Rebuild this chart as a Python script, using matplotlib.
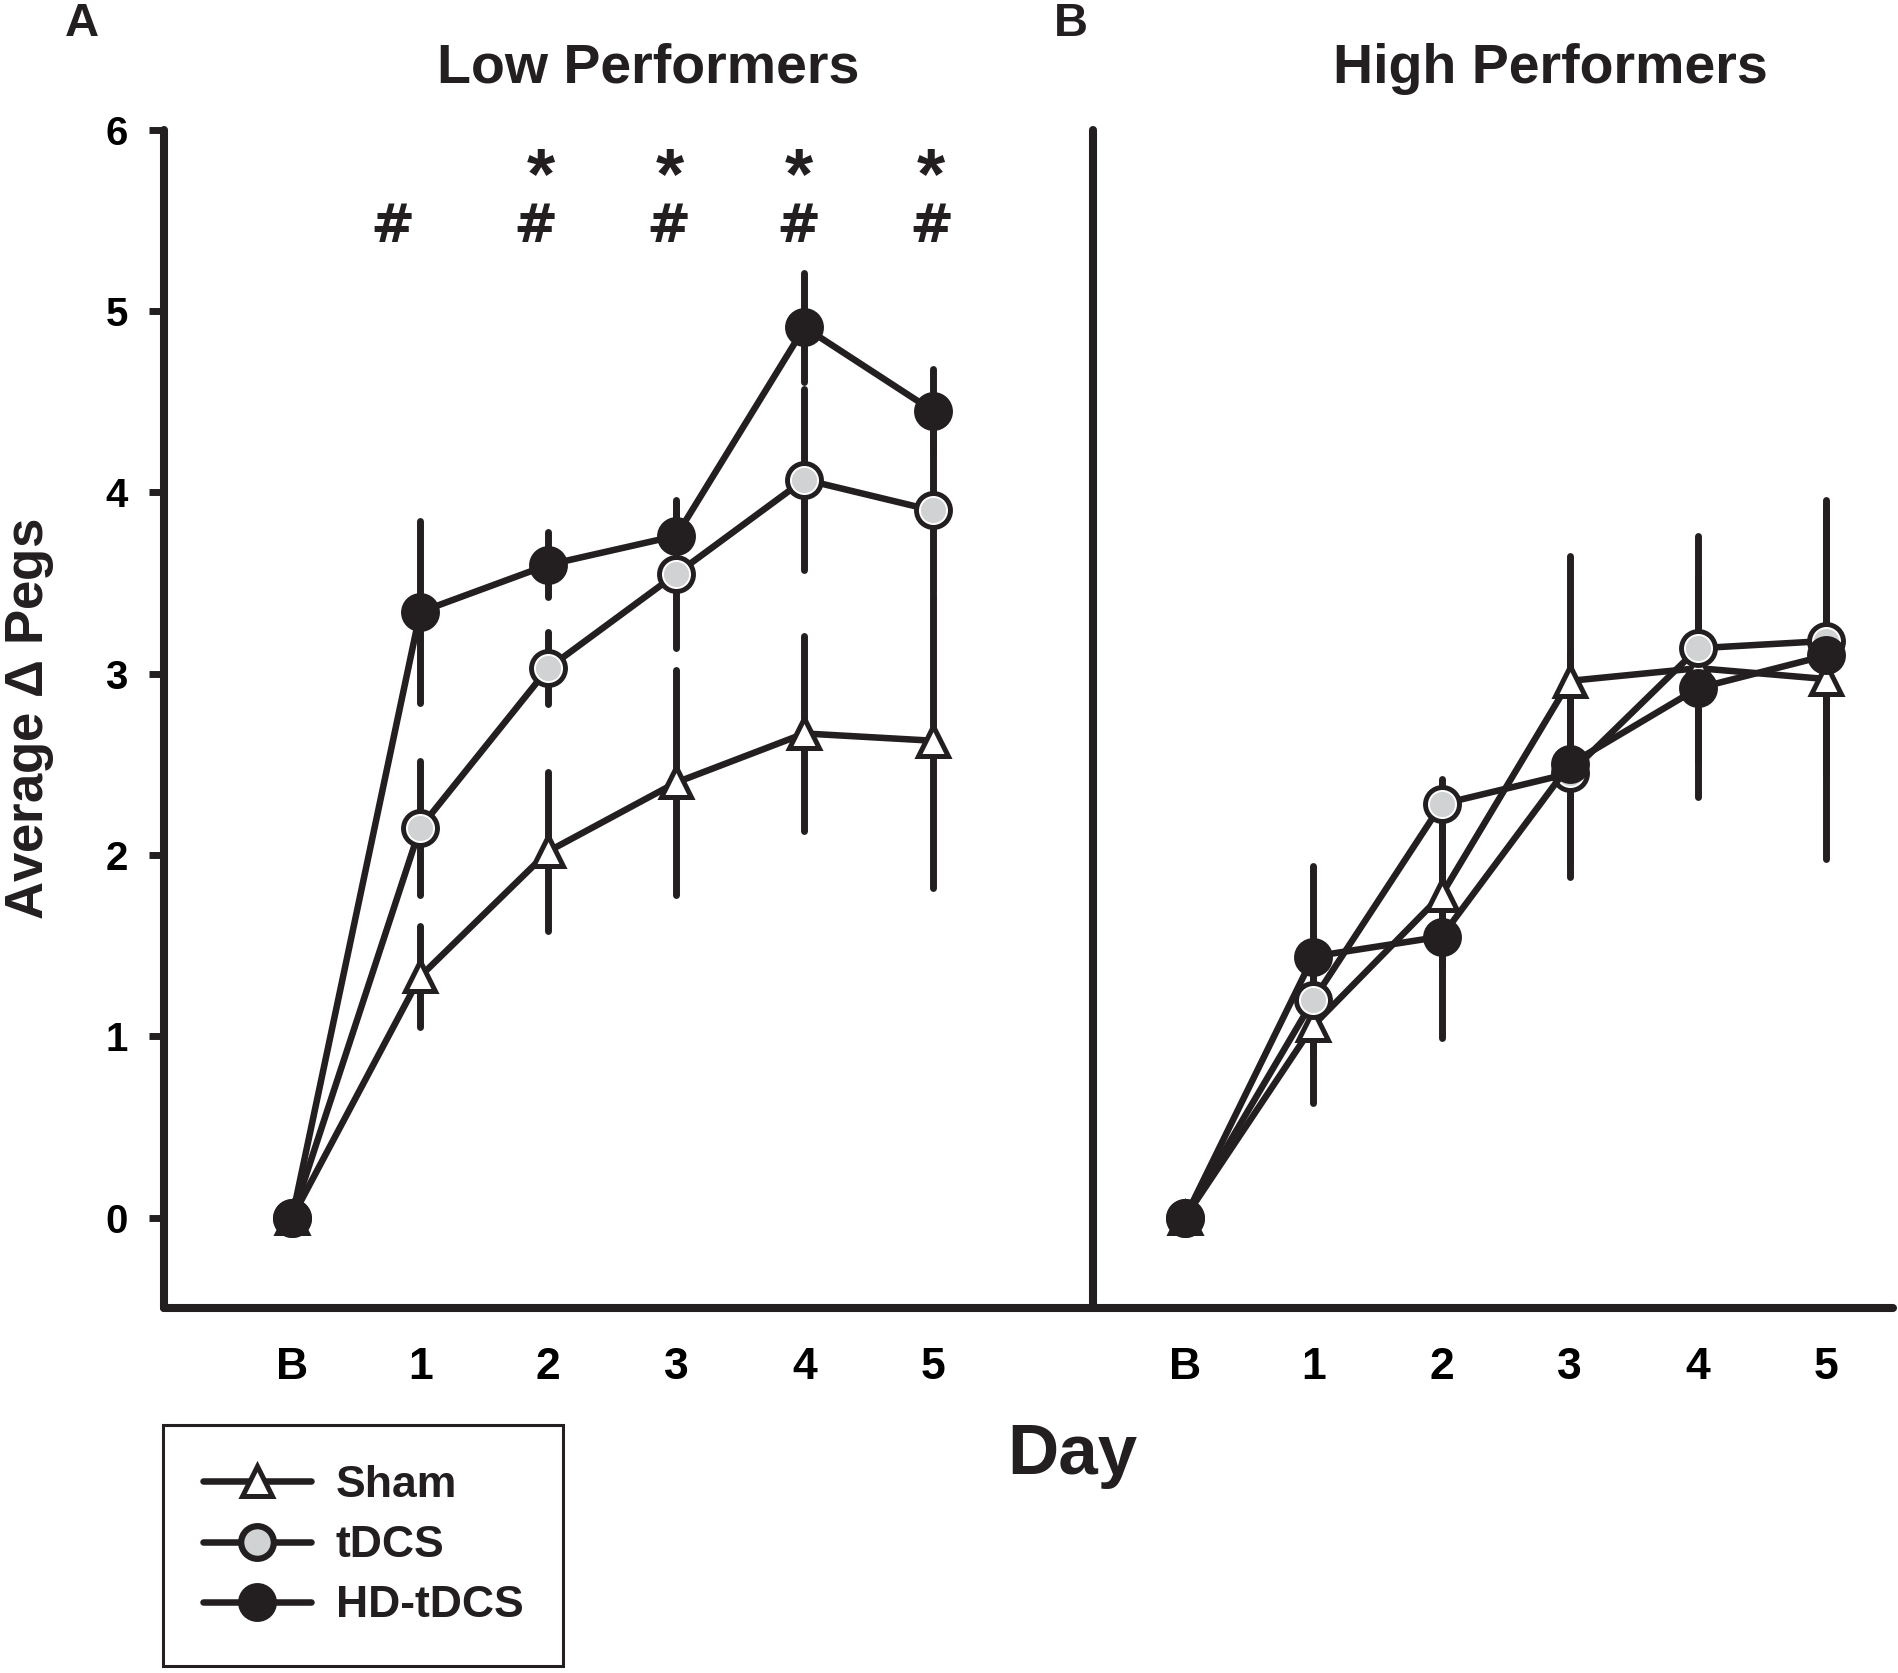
import numpy as np
import matplotlib
matplotlib.use('Agg')
import matplotlib.pyplot as plt
from matplotlib.lines import Line2D

plt.rcParams['font.family'] = ['Liberation Sans', 'DejaVu Sans']
plt.rcParams['font.weight'] = 'bold'
plt.rcParams['mathtext.fontset'] = 'custom'
plt.rcParams['mathtext.rm'] = 'Liberation Sans'

# days on the x axis
days = ['B', '1', '2', '3', '4', '5']
groups = ['Sham', 'tDCS', 'HD-tDCS']

# Low performers (panel A)
low_sham = [0, 1.33, 2.02, 2.40, 2.67, 2.63]
low_sham_err = [0, 0.28, 0.44, 0.62, 0.54, 0.81]
low_tdcs = [0, 2.15, 3.03, 3.55, 4.07, 3.90]
low_tdcs_err = [0, 0.37, 0.20, 0.41, 0.50, 0.45]
low_hd = [0, 3.34, 3.60, 3.76, 4.91, 4.45]
low_hd_err = [0, 0.50, 0.18, 0.18, 0.30, 0.23]

# High performers (panel B)
high_sham = [0, 1.06, 1.78, 2.96, 3.03, 2.97]
high_sham_err = [0, 0.43, 0.40, 0.69, 0.50, 0.99]
high_tdcs = [0, 1.20, 2.28, 2.45, 3.14, 3.18]
high_tdcs_err = [0, 0.30, 0.14, 0.50, 0.62, 0.74]
high_hd = [0, 1.44, 1.55, 2.50, 2.92, 3.10]
high_hd_err = [0, 0.50, 0.56, 0.62, 0.60, 0.60]

# significance marks on panel A (x in day units)
hash_x = [0.78, 1.90, 2.94, 3.95, 4.99]
star_x = [1.94, 2.95, 3.96, 4.99]

INK = '#231f20'
GREY = '#d0d2d3'

styles = {
    'Sham': dict(marker='^', ms=22, mfc='white', mec=INK, mew=3.6),
    'tDCS': dict(marker='o', ms=23.5, mfc=GREY, mec=INK, mew=4.5),
    'HD-tDCS': dict(marker='o', ms=23.5, mfc=INK, mec=INK, mew=4.5),
}

W, H = 1899, 1673
fig = plt.figure(figsize=(W / 100, H / 100), dpi=100)

axA = fig.add_axes([164 / W, 1 - 1308.3 / H, (1092.7 - 164) / W, (1308.3 - 129.6) / H])
axB = fig.add_axes([1092.7 / W, 1 - 1308.3 / H, (1893 - 1092.7) / W, (1308.3 - 129.6) / H])

x = np.arange(len(days))


def draw_panel(ax, sham, sham_e, tdcs, tdcs_e, hd, hd_e):
    series = [('Sham', sham, sham_e), ('tDCS', tdcs, tdcs_e), ('HD-tDCS', hd, hd_e)]
    for name, y, e in series:
        eb = ax.errorbar(x, y, yerr=e, fmt='none', ecolor=INK, elinewidth=5, capsize=0, zorder=2)
        for c in eb[2]:
            c.set_capstyle('round')
    z = 3
    for name, y, e in series:
        ax.plot(x, y, color=INK, lw=4.7, zorder=z, solid_capstyle='round', **styles[name])
        if name == 'tDCS':
            ax.plot(x, y, ls='none', marker='o', ms=19.5, mfc=GREY, mec='white', mew=1.4, zorder=z + 0.5)
        z += 1
    ax.set_ylim(-0.5, 6)
    ax.set_xticks(x)
    ax.set_xticklabels(days)
    ax.tick_params(axis='x', length=0, pad=28, labelsize=32)
    for s in ['top', 'right']:
        ax.spines[s].set_visible(False)
    for s in ['left', 'bottom']:
        ax.spines[s].set_linewidth(5.8)
        ax.spines[s].set_color(INK)
        ax.spines[s].set_capstyle('round')


draw_panel(axA, low_sham, low_sham_err, low_tdcs, low_tdcs_err, low_hd, low_hd_err)
draw_panel(axB, high_sham, high_sham_err, high_tdcs, high_tdcs_err, high_hd, high_hd_err)

axA.set_xlim(-1.0, 6.25)
axB.set_xlim(-0.72, 5.52)

axA.set_yticks(range(0, 7))
axA.tick_params(axis='y', length=11, width=5, pad=15, labelsize=29, color=INK)
axB.tick_params(axis='y', left=False, labelleft=False)

for xi in hash_x:
    axA.text(xi, 5.38, '#', fontsize=38, fontweight='bold', family='DejaVu Sans',
             ha='center', va='baseline', color=INK)
for xi in star_x:
    axA.text(xi, 5.62, '*', fontsize=52, ha='center', va='baseline', color=INK)

# titles and labels
fig.text(648 / W, 1 - 82.7 / H, 'Low Performers', fontsize=40, ha='center', va='baseline', color=INK)
fig.text(1550 / W, 1 - 82.7 / H, 'High Performers', fontsize=40, ha='center', va='baseline', color=INK)
fig.text(82 / W, 1 - 36 / H, 'A', fontsize=34, ha='center', va='baseline', color=INK)
fig.text(1071 / W, 1 - 36 / H, 'B', fontsize=34, ha='center', va='baseline', color=INK)
fig.text(1072 / W, 1 - 1474 / H, 'Day', fontsize=51, ha='center', va='baseline', color=INK)
fig.text(43 / W, 1 - 719 / H, r'Average $\Delta$ Pegs', fontsize=38, rotation=90,
         rotation_mode='anchor', ha='center', va='baseline', color=INK)

handles = [Line2D([], [], color=INK, lw=4.7, solid_capstyle='round', **styles[g]) for g in groups]
leg = fig.legend(handles, groups, loc='upper left', bbox_to_anchor=(162.7 / W, 1 - 1425 / H),
                 borderaxespad=0, fontsize=32, handlelength=2.43, handletextpad=0.56,
                 borderpad=0.9, labelspacing=0.43, fancybox=False, framealpha=1)
leg.get_frame().set_edgecolor(INK)
leg.get_frame().set_linewidth(2.2)
for t in leg.get_texts():
    t.set_color(INK)

fig.savefig('out.png', dpi=100)
